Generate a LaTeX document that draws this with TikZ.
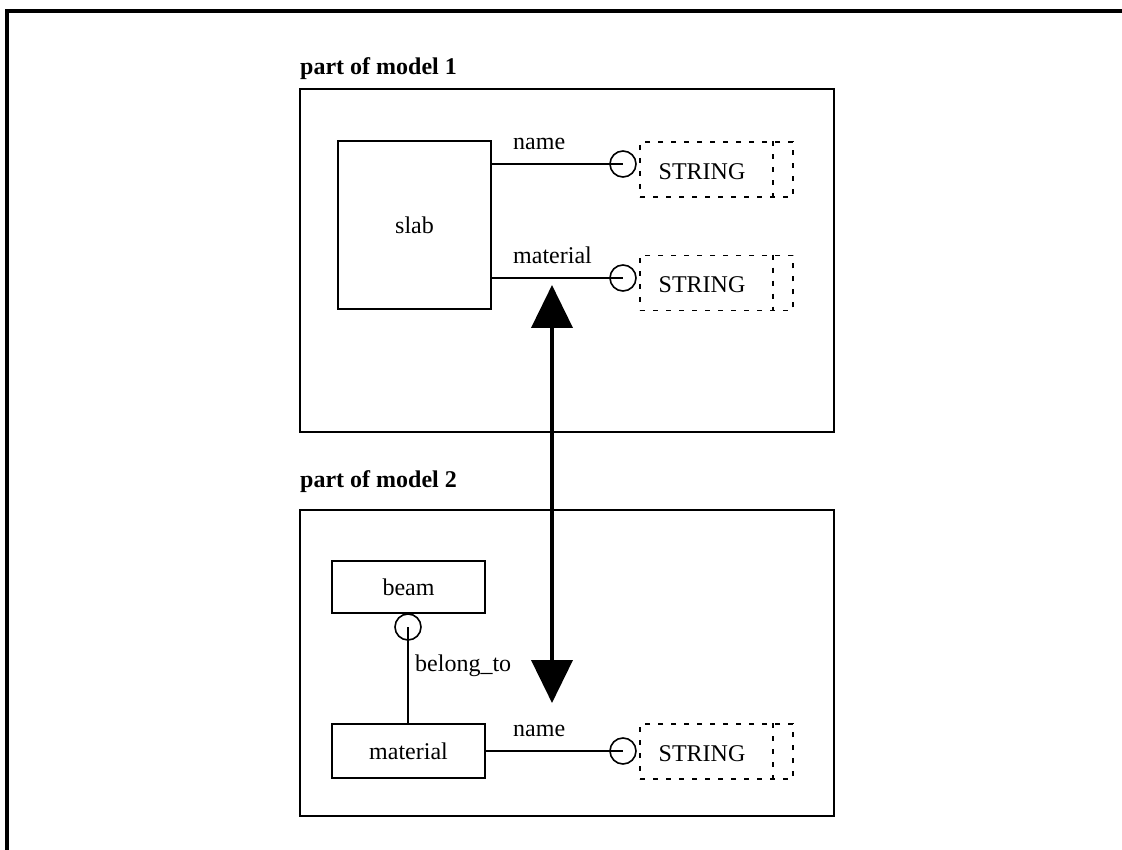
\documentclass[tikz,border=0pt]{standalone}
\usepackage{fontspec}
\setmainfont{Liberation Serif}
\usetikzlibrary{arrows.meta}

\begin{document}
\begin{tikzpicture}[x=1pt,y=-1pt,
  every node/.style={inner sep=0pt,font=\fontsize{24}{28}\selectfont},
  ent/.style={draw,line width=1.6pt,minimum width=153pt},
  role/.style={draw,circle,line width=1.6pt,minimum size=26pt},
  strbox/.style={draw,line width=1.6pt,dash pattern=on 5pt off 8pt,minimum width=153pt,minimum height=55pt},
  dashline/.style={line width=1.6pt,dash pattern=on 5pt off 8pt},
  link/.style={line width=1.6pt},
  title/.style={anchor=base west,font=\bfseries\fontsize{24}{28}\selectfont}]
  \useasboundingbox (0,0) rectangle (1122,850);
  \draw[line width=3.5pt] (7,850) -- (7,11) -- (1122,11);

  % model 1
  \node[title] (model1) at (300,75) {part of model 1};
  \draw[link] (300,89) rectangle (834,432);
  \node[ent,minimum height=168pt] (slab) at (414.5,225) {slab};
  \node[role] (c1) at (623,164) {};
  \node[role] (c2) at (623,278) {};
  \draw[link] (slab.east |- c1) -- (c1.center);
  \draw[link] (slab.east |- c2) -- (c2.center);
  \node[anchor=base west] (name1) at (513,150) {name};
  \node[anchor=base west] (mat1) at (513,264) {material};
  \node[strbox] (s1) at (716.5,169.5) {};
  \node[strbox] (s2) at (716.5,283) {};
  \node (t1) at (702,172) {STRING};
  \node (t2) at (702,285) {STRING};
  \draw[dashline] ([xshift=-21pt]s1.north east) -- ([xshift=-21pt]s1.south east);
  \draw[dashline] ([xshift=-21pt]s2.north east) -- ([xshift=-21pt]s2.south east);

  % model 2
  \node[title] (model2) at (300,487) {part of model 2};
  \draw[link] (300,510) rectangle (834,816);
  \node[ent,minimum height=52pt] (beam) at (408.5,587) {beam};
  \node[ent,minimum height=54pt] (mat) at (408.5,751) {material};
  \node[role] (c3) at (408,627) {};
  \node[role] (c4) at (623,751) {};
  \draw[link] (c3.center) -- (c3 |- mat.north);
  \draw[link] (mat.east |- c4) -- (c4.center);
  \node[anchor=west] (belong) at (415,666) {belong\_to};
  \node[anchor=base west] (name2) at (513,736) {name};
  \node[strbox] (s3) at (716.5,751.5) {};
  \node (t3) at (702,754) {STRING};
  \draw[dashline] ([xshift=-21pt]s3.north east) -- ([xshift=-21pt]s3.south east);

  % correspondence arrow
  \coordinate (up) at (552,285);
  \coordinate (down) at (552,703);
  \draw[line width=4pt,{Triangle[length=43pt,width=41pt]}-{Triangle[length=43pt,width=41pt]}] (up) -- (down);
\end{tikzpicture}
\end{document}
